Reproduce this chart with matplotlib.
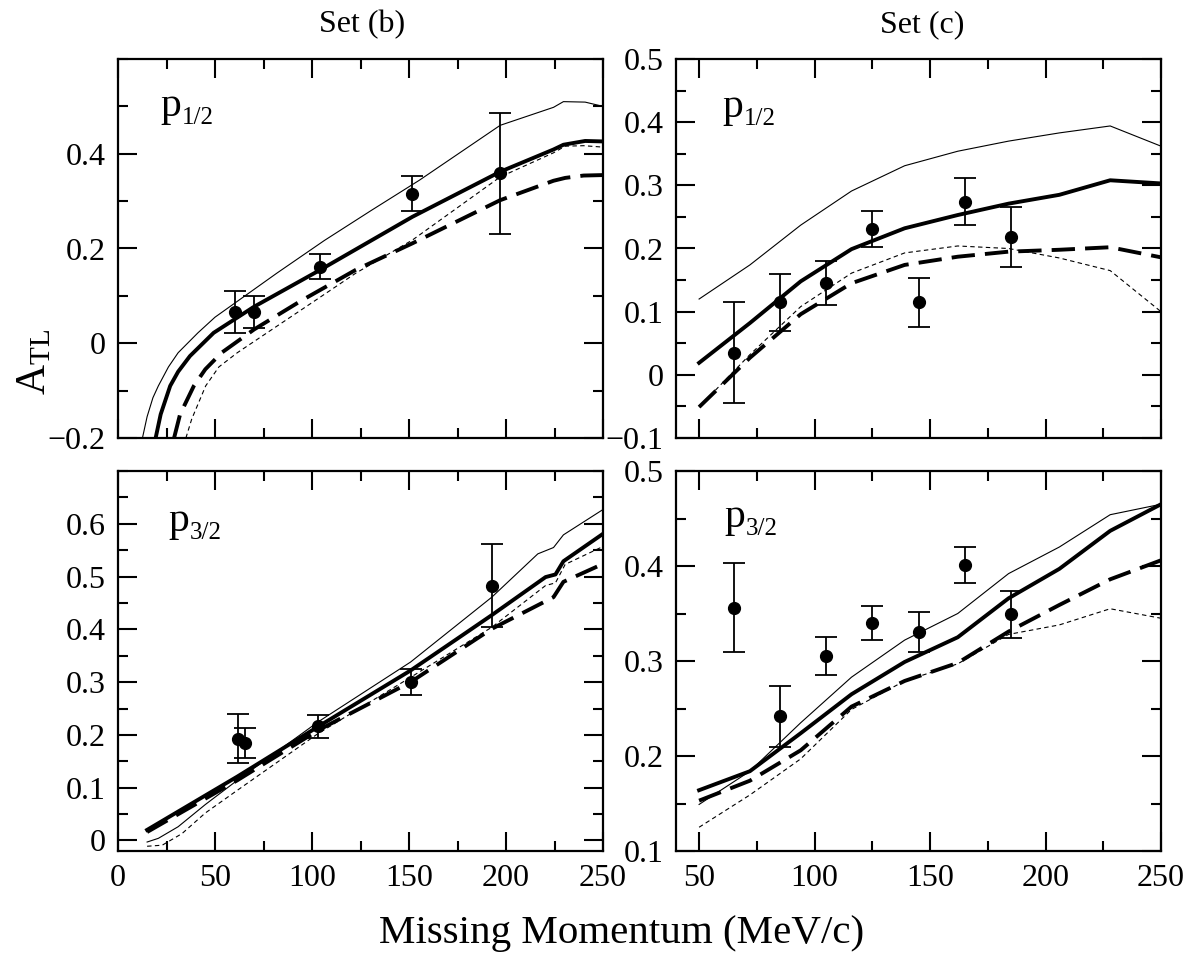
import numpy as np
import matplotlib
matplotlib.use('Agg')
import matplotlib.pyplot as plt
import matplotlib.transforms as mtransforms
from matplotlib.ticker import MultipleLocator, FuncFormatter

plt.rcParams['font.family'] = ['Liberation Serif', 'DejaVu Serif']
plt.rcParams['mathtext.fontset'] = 'custom'
plt.rcParams['mathtext.rm'] = 'Liberation Serif'
plt.rcParams['mathtext.it'] = 'Liberation Serif:italic'

# ---- Set (b), p1/2 ----
b12_data_x = [60.3, 70.1, 104.3, 151.8, 197.0]
b12_data_y = [0.066, 0.066, 0.162, 0.316, 0.359]
b12_data_err = [0.044, 0.033, 0.026, 0.037, 0.128]

b12_thin_x = [12.6, 15, 18, 20.8, 26, 31, 41.2, 50, 60.3, 81.9, 106.4, 130.8, 155.3, 197, 224.5, 229.6, 240.8, 250]
b12_thin_y = [-0.2, -0.155, -0.115, -0.09, -0.05, -0.02, 0.022, 0.055, 0.085, 0.148, 0.217, 0.281, 0.344, 0.46, 0.498, 0.510, 0.509, 0.5]
b12_thick_x = [19.4, 22, 26.9, 31, 37.1, 49.3, 70.1, 104.3, 151.8, 197, 224.5, 229.6, 240.8, 250]
b12_thick_y = [-0.2, -0.15, -0.09, -0.06, -0.027, 0.022, 0.077, 0.155, 0.267, 0.362, 0.409, 0.419, 0.427, 0.426]
b12_dash_x = [28.9, 32, 39.1, 45, 53.4, 70.1, 94.1, 122.6, 151.8, 197, 224.5, 230.5, 240, 250]
b12_dash_y = [-0.2, -0.15, -0.09, -0.055, -0.02, 0.029, 0.089, 0.155, 0.211, 0.302, 0.343, 0.349, 0.354, 0.355]
b12_tdash_x = [35, 38, 45.2, 52, 61.5, 81.9, 102.3, 122.6, 151.8, 197, 224.5, 230.5, 240, 250]
b12_tdash_y = [-0.2, -0.16, -0.09, -0.05, -0.02, 0.036, 0.092, 0.148, 0.218, 0.351, 0.402, 0.416, 0.417, 0.414]

# ---- Set (c), p1/2 ----
c12_data_x = [65, 85, 105, 125, 145, 165, 185]
c12_data_y = [0.035, 0.115, 0.146, 0.231, 0.115, 0.274, 0.218]
c12_data_err = [0.080, 0.045, 0.035, 0.029, 0.039, 0.037, 0.048]

c_grid = [50, 72, 94, 116, 139, 162, 184, 206, 228, 250]
c12_thin_y = [0.120, 0.174, 0.237, 0.291, 0.331, 0.354, 0.370, 0.383, 0.394, 0.362]
c12_thick_y = [0.019, 0.082, 0.148, 0.199, 0.232, 0.253, 0.271, 0.285, 0.308, 0.303]
c12_dash_y = [-0.051, 0.027, 0.096, 0.145, 0.174, 0.187, 0.195, 0.198, 0.202, 0.186]
c12_tdash_y = [-0.051, 0.032, 0.108, 0.161, 0.193, 0.204, 0.200, 0.185, 0.165, 0.100]

# ---- Set (b), p3/2 ----
b32_data_x = [61.7, 65.4, 103.3, 150.8, 192.7]
b32_data_y = [0.193, 0.185, 0.216, 0.300, 0.483]
b32_data_err = [0.046, 0.029, 0.022, 0.024, 0.079]

b32_thick_x = [15, 61.5, 103.3, 150.8, 173.6, 192.7, 220.4, 225.5, 229.6, 250]
b32_thick_y = [0.020, 0.121, 0.216, 0.322, 0.379, 0.427, 0.499, 0.504, 0.529, 0.581]
b32_thin_x = [15, 20.8, 31, 45, 61.5, 103.3, 150.8, 192.7, 216.4, 224.5, 229.6, 250]
b32_thin_y = [-0.003, 0.004, 0.026, 0.068, 0.114, 0.225, 0.338, 0.461, 0.543, 0.555, 0.579, 0.627]
b32_tdash_x = [15, 22.8, 33, 45, 61.5, 103.3, 150.8, 192.7, 220.4, 225.5, 230.5, 250]
b32_tdash_y = [-0.011, -0.009, 0.013, 0.052, 0.095, 0.203, 0.309, 0.404, 0.483, 0.488, 0.523, 0.557]
b32_dash_x = [15, 61.5, 103.3, 150.8, 192.7, 224.5, 229.6, 250]
b32_dash_y = [0.016, 0.114, 0.209, 0.300, 0.401, 0.461, 0.490, 0.524]

# ---- Set (c), p3/2 ----
c32_data_x = [65, 85, 105, 125, 145, 165, 185]
c32_data_y = [0.356, 0.242, 0.305, 0.340, 0.331, 0.401, 0.349]
c32_data_err = [0.047, 0.032, 0.020, 0.018, 0.021, 0.019, 0.025]

c32_thick_y = [0.164, 0.184, 0.224, 0.265, 0.299, 0.325, 0.366, 0.397, 0.437, 0.465]
c32_thin_y = [0.149, 0.184, 0.235, 0.283, 0.322, 0.350, 0.392, 0.420, 0.454, 0.465]
c32_dash_y = [0.153, 0.174, 0.206, 0.252, 0.279, 0.298, 0.331, 0.359, 0.386, 0.406]
c32_tdash_y = [0.125, 0.159, 0.197, 0.249, 0.279, 0.297, 0.328, 0.338, 0.355, 0.345]


def fmt(v, pos):
    s = '%g' % (round(v, 2) + 0.0)
    return s.replace('-', '\u2212')


def draw_panel(ax, curves, data, xlim, ylim, xmaj, ymin, yticks, label, xlabels):
    thin_x, thin_y, thick_x, thick_y, dash_x, dash_y, tdash_x, tdash_y = curves
    ax.plot(thin_x, thin_y, color='black', lw=0.8)
    ax.plot(tdash_x, tdash_y, color='black', lw=0.8, dashes=(4, 3))
    ax.plot(dash_x, dash_y, color='black', lw=2.8, dashes=(6, 2.6))
    ax.plot(thick_x, thick_y, color='black', lw=2.8)
    dx, dy, de = data
    ax.errorbar(dx, dy, yerr=de, fmt='o', color='black', ms=8.5,
                elinewidth=1.3, capsize=8, capthick=1.3)

    ax.set_xlim(xlim)
    ax.set_ylim(ylim)
    ax.xaxis.set_major_locator(MultipleLocator(xmaj))
    ax.xaxis.set_minor_locator(MultipleLocator(xmaj / 2))
    ax.set_yticks(yticks)
    ax.yaxis.set_minor_locator(MultipleLocator(ymin))
    ax.xaxis.set_major_formatter(FuncFormatter(fmt))
    ax.yaxis.set_major_formatter(FuncFormatter(fmt))
    ax.tick_params(which='both', direction='in', top=True, right=True,
                   width=1.5, labelsize=23)
    ax.tick_params(which='major', length=14, pad=9)
    ax.tick_params(which='minor', length=7)
    if not xlabels:
        ax.tick_params(axis='x', labelbottom=False)
    for sp in ax.spines.values():
        sp.set_linewidth(1.6)

    # orbital label: "p" with a smaller, lowered subscript
    lx, ly, sub = label
    ax.text(lx, ly, 'p', transform=ax.transAxes, fontsize=30,
            ha='left', va='baseline')
    sub_tr = mtransforms.offset_copy(ax.transAxes, fig=ax.figure, x=15.5, y=-6, units='points')
    ax.text(lx, ly, sub, transform=sub_tr, fontsize=18,
            ha='left', va='baseline')


fig = plt.figure(figsize=(11.92, 9.55), dpi=100)

W = 485 / 1192
ax_b12 = fig.add_axes([118 / 1192, 1 - 438 / 955, W, 379 / 955])
ax_c12 = fig.add_axes([676 / 1192, 1 - 438 / 955, W, 379 / 955])
ax_b32 = fig.add_axes([118 / 1192, 1 - 851 / 955, W, 380 / 955])
ax_c32 = fig.add_axes([676 / 1192, 1 - 851 / 955, W, 380 / 955])

draw_panel(ax_b12,
           (b12_thin_x, b12_thin_y, b12_thick_x, b12_thick_y,
            b12_dash_x, b12_dash_y, b12_tdash_x, b12_tdash_y),
           (b12_data_x, b12_data_y, b12_data_err),
           (0, 250), (-0.2, 0.6), 50, 0.1, [-0.2, 0, 0.2, 0.4],
           (0.087, 0.850, '1/2'), False)

draw_panel(ax_c12,
           (c_grid, c12_thin_y, c_grid, c12_thick_y,
            c_grid, c12_dash_y, c_grid, c12_tdash_y),
           (c12_data_x, c12_data_y, c12_data_err),
           (40, 250), (-0.1, 0.5), 50, 0.05,
           [-0.1, 0, 0.1, 0.2, 0.3, 0.4, 0.5],
           (0.095, 0.847, '1/2'), False)

draw_panel(ax_b32,
           (b32_thin_x, b32_thin_y, b32_thick_x, b32_thick_y,
            b32_dash_x, b32_dash_y, b32_tdash_x, b32_tdash_y),
           (b32_data_x, b32_data_y, b32_data_err),
           (0, 250), (-0.02, 0.7), 50, 0.05,
           [0, 0.1, 0.2, 0.3, 0.4, 0.5, 0.6],
           (0.103, 0.842, '3/2'), True)

draw_panel(ax_c32,
           (c_grid, c32_thin_y, c_grid, c32_thick_y,
            c_grid, c32_dash_y, c_grid, c32_tdash_y),
           (c32_data_x, c32_data_y, c32_data_err),
           (40, 250), (0.1, 0.5), 50, 0.05,
           [0.1, 0.2, 0.3, 0.4, 0.5],
           (0.099, 0.853, '3/2'), True)

# column titles and shared axis labels
fig.text(362 / 1192, 1 - 32 / 955, 'Set (b)', ha='center', va='baseline', fontsize=23)
fig.text(922 / 1192, 1 - 32 / 955, 'Set (c)', ha='center', va='baseline', fontsize=23)
fig.text(622 / 1192, 1 - 943 / 955, 'Missing Momentum (MeV/c)',
         ha='center', va='baseline', fontsize=29.5)
fig.text(35 / 1192, 1 - 362 / 955, r'A$_{\mathrm{TL}}$', rotation=90,
         ha='center', va='center', fontsize=30)

fig.savefig('out.png', dpi=100)
